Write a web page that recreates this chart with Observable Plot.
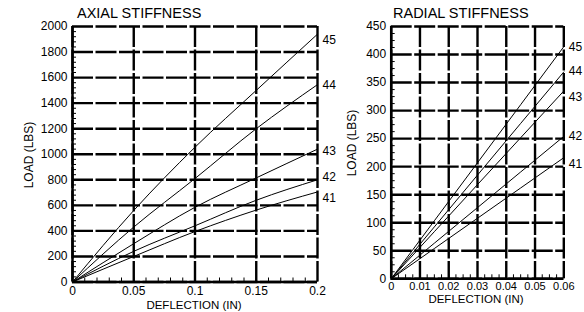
<!DOCTYPE html>
<html><head><meta charset="utf-8">
<script src="https://cdn.jsdelivr.net/npm/d3@7"></script>
<script src="https://cdn.jsdelivr.net/npm/@observablehq/plot@0.6"></script>
<style>
body{margin:0;background:#fff;}
#wrap{position:relative;width:584px;height:312px;overflow:hidden;font-family:Arial,"Liberation Sans",sans-serif;color:#000;background:#fff;}
.panel{position:absolute;top:0;}
.lbl{position:absolute;font-size:11.5px;white-space:nowrap;line-height:1;transform:translate(-50%,-50%);}
.ylbl{position:absolute;font-size:12px;white-space:nowrap;line-height:1;transform:translate(-50%,-50%) rotate(-90deg);}
.title{position:absolute;font-size:14.5px;white-space:nowrap;line-height:1;}
</style></head><body><div id="wrap"></div>
<script>
// ---- data ----
const seriesNames = ["41", "42", "43", "44", "45"];

const axialDeflection = [0, 0.05, 0.1, 0.15, 0.2];
const axial41 = [0, 200, 395, 563, 705];
const axial42 = [0, 240, 440, 640, 800];
const axial43 = [0, 300, 585, 815, 1040];
const axial44 = [0, 430, 810, 1200, 1545];
const axial45 = [0, 560, 1055, 1500, 1940];

const radialDeflection = [0, 0.03, 0.06];
const radial41 = [0, 108, 216];
const radial42 = [0, 127, 254];
const radial43 = [0, 168, 335];
const radial44 = [0, 185, 369];
const radial45 = [0, 207, 414];

const axialXTicks = [0, 0.05, 0.1, 0.15, 0.2];
const axialYTicks = [0, 200, 400, 600, 800, 1000, 1200, 1400, 1600, 1800, 2000];
const radialXTicks = [0, 0.01, 0.02, 0.03, 0.04, 0.05, 0.06];
const radialYTicks = [0, 50, 100, 150, 200, 250, 300, 350, 400, 450];

const axialTitle = "AXIAL STIFFNESS";
const radialTitle = "RADIAL STIFFNESS";
const xLabel = "DEFLECTION (IN)";
const yLabel = "LOAD (LBS)";

// ---- build ----
const font = 'Arial, "Liberation Sans", sans-serif';
function rowsOf(xs, list) {
  const rows = [];
  list.forEach((vals, i) => vals.forEach((v, j) => rows.push({series: seriesNames[i], x: xs[j], y: v})));
  return rows;
}
function minor(lo, hi, step) {
  const n = Math.round((hi - lo) / step);
  return d3.range(n + 1).map(i => +(lo + i * step).toFixed(6));
}

function panel({xs, list, xTicks, yTicks, xStep, yStep, width, height, ml, mr, mt, mb, xFont, xPad, labelDy}) {
  const rows = rowsOf(xs, list);
  const ends = list.map((vals, i) => ({series: seriesNames[i], x: xs[xs.length - 1], y: vals[vals.length - 1]}));
  const xd = [xTicks[0], xTicks[xTicks.length - 1]];
  const yd = [yTicks[0], yTicks[yTicks.length - 1]];
  const grid = {stroke: "black", strokeOpacity: 1, strokeWidth: 2.4, strokeDasharray: "21,2.5"};
  return Plot.plot({
    width, height, marginLeft: ml, marginRight: mr, marginTop: mt, marginBottom: mb,
    x: {domain: xd}, y: {domain: yd},
    style: {fontFamily: font, fontSize: "12px", background: "transparent", color: "black", overflow: "visible"},
    marks: [
      Plot.gridX(xTicks, grid),
      Plot.gridY(yTicks, grid),
      Plot.axisX(minor(xd[0], xd[1], xStep), {tickSize: 4, dy: -4, tickFormat: () => "", label: null, strokeWidth: 1}),
      Plot.axisY(minor(yd[0], yd[1], yStep), {tickSize: 4, dx: 4, tickFormat: () => "", label: null, strokeWidth: 1}),
      Plot.axisX(xTicks, {tickSize: 0, tickPadding: xPad, tickFormat: d => String(d), label: null, fontSize: xFont}),
      Plot.axisY(yTicks, {tickSize: 0, tickPadding: 5, tickFormat: d => String(d), label: null}),
      Plot.ruleX([xd[0]], {stroke: "black", strokeWidth: 2.5}),
      Plot.ruleY([yd[0]], {stroke: "black", strokeWidth: 2.5}),
      Plot.line(rows, {x: "x", y: "y", z: "series", stroke: "black", strokeWidth: 1, curve: "monotone-x"}),
      ...ends.map((e, i) => Plot.text([e], {x: "x", y: "y", text: "series", dx: 5, dy: labelDy[i], textAnchor: "start", fontSize: 12}))
    ]
  });
}

const wrap = document.getElementById("wrap");

const left = panel({
  xs: axialDeflection, list: [axial41, axial42, axial43, axial44, axial45],
  xTicks: axialXTicks, yTicks: axialYTicks, xStep: 0.01, yStep: 40,
  width: 340, height: 312, ml: 72, mr: 23, mt: 26, mb: 30.5, xFont: 12, xPad: 4,
  labelDy: [6, -3, 2, 1, 6]
});
left.classList.add("panel"); left.style.left = "0px";
wrap.appendChild(left);

const right = panel({
  xs: radialDeflection, list: [radial41, radial42, radial43, radial44, radial45],
  xTicks: radialXTicks, yTicks: radialYTicks, xStep: 0.0025, yStep: 12.5,
  width: 244, height: 312, ml: 50.7, mr: 20.7, mt: 26, mb: 33.7, xFont: 11, xPad: 3,
  labelDy: [6, 0, 6, -1, 0]
});
right.classList.add("panel"); right.style.left = "340px";
wrap.appendChild(right);

function addDiv(cls, text, x, y) {
  const d = document.createElement("div");
  d.className = cls; d.textContent = text;
  d.style.left = x + "px"; d.style.top = y + "px";
  wrap.appendChild(d);
}
addDiv("title", axialTitle, 77, 6);
addDiv("title", radialTitle, 393, 6);
addDiv("lbl", xLabel, 194, 305.5);
addDiv("lbl", xLabel, 476, 300);
addDiv("ylbl", yLabel, 29, 155);
addDiv("ylbl", yLabel, 352, 143);
</script>
</body></html>
